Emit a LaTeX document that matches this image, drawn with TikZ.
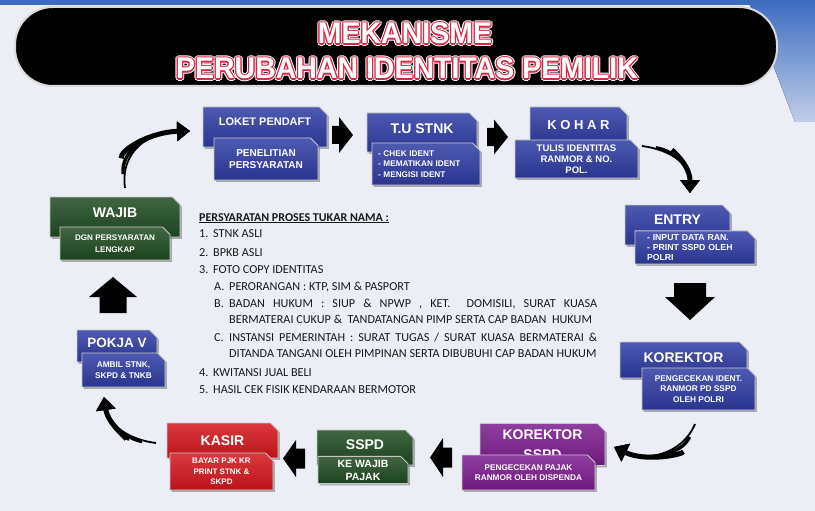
\documentclass[tikz,border=0pt]{standalone}
\usepackage{fontspec}
\setmainfont{Liberation Sans}
\newfontfamily\calibri{Carlito}
\usepackage{graphicx}
\usetikzlibrary{shapes.misc,shadows,calc,arrows.meta,positioning}

\definecolor{latar}{HTML}{ECEEF6}
\definecolor{biru}{HTML}{2F3CA3}
\definecolor{hijau}{HTML}{1F4B22}
\definecolor{merah}{HTML}{D4161C}
\definecolor{ungu}{HTML}{7B1D8E}
\definecolor{merahjudul}{HTML}{D42A45}
\definecolor{birutepi}{HTML}{3C6CC0}

\tikzset{
  kotak/.style={chamfered rectangle, chamfered rectangle corners=north east,
    chamfered rectangle xsep=4pt, top color=#1!85!white, bottom color=#1!88!black,
    draw=white!78!black, line width=.9pt,
    drop shadow={shadow xshift=1.8pt, shadow yshift=-1.8pt, fill=black!60, opacity=.5},
    text=white, align=center, inner sep=0pt},
  kepala/.style={kotak=#1, font=\bfseries\fontsize{14}{17}\selectfont},
  isi/.style={kotak=#1, font=\bfseries\fontsize{8.3}{10.5}\selectfont},
  judulteks/.style={anchor=base, inner sep=0pt, font=\bfseries\fontsize{30}{32}\selectfont},
  daftar/.style={anchor=base west, inner sep=0pt, text=black!90,
    font=\calibri\fontsize{12.2}{14}\selectfont},
  lengkung/.style={line width=1.8pt, -{Triangle[length=13pt,width=19pt]},
    postaction={draw, line width=3.4pt, shorten <=14pt},
    postaction={draw, line width=5pt, shorten <=30pt}}
}

\begin{document}
\begin{tikzpicture}[x=1pt,y=-1pt]

\newcommand\teksgaris[3]{%
  \foreach \s in {0,45,...,315}
    \node[judulteks, text=white] (#1-w\s) at ($(#2)+(\s:2.4pt)$) {\scalebox{0.95}[1]{#3}};
  \foreach \s in {0,45,...,315}
    \node[judulteks, text=merahjudul] (#1-r\s) at ($(#2)+(\s:1.3pt)$) {\scalebox{0.95}[1]{#3}};
  \node[judulteks, text=white] (#1) at (#2) {\scalebox{0.95}[1]{#3}};
}

\newcommand\blokpanah[8]{%
  \fill[black, shift={(#2,#3)}, rotate=#4] ({-#5/2},{-#8/2}) -- ({#5/2-#6},{-#8/2})
    -- ({#5/2-#6},{-#7/2}) -- ({#5/2},0) -- ({#5/2-#6},{#7/2})
    -- ({#5/2-#6},{#8/2}) -- ({-#5/2},{#8/2}) -- cycle;
  \coordinate (#1) at (#2,#3);
}

\useasboundingbox (0,0) rectangle (815,511);
\fill[latar] (0,0) rectangle (815,511);
\fill[birutepi] (0,0) rectangle (815,5);
\fill[top color=birutepi, bottom color=birutepi!25!latar] (748,0) -- (815,0) -- (815,122) -- (795,122) -- cycle;

% judul
\node[draw=white!85!black, line width=2pt, fill=black, rounded corners=38pt,
  minimum width=762pt, minimum height=79pt] (bar) at (396,46.5) {};
\teksgaris{judul1}{405,44}{MEKANISME}
\teksgaris{judul2}{407,79}{PERUBAHAN IDENTITAS PEMILIK}

% baris atas
\node[kepala=biru, minimum width=124pt, minimum height=40pt, text depth=10pt,
  font=\bfseries\fontsize{11}{13}\selectfont] (loket) at (265,127) {LOKET PENDAFT};
\node[isi=biru, minimum width=104pt, minimum height=42pt,
  font=\bfseries\fontsize{10}{12}\selectfont] (loket-isi) at (266,159) {PENELITIAN\\PERSYARATAN};

\node[kepala=biru, minimum width=110pt, minimum height=39pt, text depth=7pt] (tu) at (422,132.5) {T.U STNK};
\node[isi=biru, minimum width=108pt, minimum height=42pt, text width=96pt, align=left,
  font=\bfseries\fontsize{8.2}{10.5}\selectfont] (tu-isi) at (426,164) {- CHEK IDENT\\- MEMATIKAN IDENT\\- MENGISI IDENT};

\node[kepala=biru, minimum width=97pt, minimum height=38pt, text depth=3pt,
  font=\bfseries\fontsize{13}{15}\selectfont] (kohar) at (578.5,126) {K O H A R};
\node[isi=biru, minimum width=123pt, minimum height=38pt,
  font=\bfseries\fontsize{9.5}{11}\selectfont] (kohar-isi) at (576.5,159) {TULIS IDENTITAS\\RANMOR \& NO.\\POL.};

% sisi kanan
\node[kepala=biru, minimum width=105pt, minimum height=40pt, text depth=10pt] (entry) at (677.5,225) {ENTRY};
\node[isi=biru, minimum width=120pt, minimum height=31pt, text width=96pt, align=left,
  font=\bfseries\fontsize{8.7}{10}\selectfont] (entry-isi) at (695,247.5) {- INPUT DATA RAN.\\- PRINT SSPD OLEH\\POLRI};

\node[kepala=biru, minimum width=127pt, minimum height=36pt, text depth=4pt] (korektor) at (683.5,360) {KOREKTOR};
\node[isi=biru, minimum width=113pt, minimum height=42pt] (korektor-isi) at (698.5,389) {PENGECEKAN IDENT.\\RANMOR PD SSPD\\OLEH POLRI};

% baris bawah
\node[kepala=ungu, minimum width=125pt, minimum height=42pt,
  font=\bfseries\fontsize{14}{20}\selectfont] (korsspd) at (542.5,444.5) {KOREKTOR\\SSPD};
\node[isi=ungu, minimum width=133pt, minimum height=35pt,
  font=\bfseries\fontsize{8.25}{10}\selectfont] (korsspd-isi) at (528.5,472.5) {PENGECEKAN PAJAK\\RANMOR OLEH DISPENDA};

\node[kepala=hijau, minimum width=96pt, minimum height=35pt, text depth=5pt] (sspd) at (365,447.5) {SSPD};
\node[isi=hijau, minimum width=90pt, minimum height=26pt,
  font=\bfseries\fontsize{10.5}{13}\selectfont] (sspd-isi) at (363,470) {KE WAJIB\\PAJAK};

\node[kepala=merah, minimum width=111pt, minimum height=35pt] (kasir) at (222.5,440.5) {KASIR};
\node[isi=merah, minimum width=103pt, minimum height=37pt,
  font=\bfseries\fontsize{8}{10.5}\selectfont] (kasir-isi) at (221.5,471.5) {BAYAR PJK KR\\PRINT STNK \&\\SKPD};

% sisi kiri
\node[kepala=biru, minimum width=80pt, minimum height=32pt, text depth=6pt,
  font=\bfseries\fontsize{13.5}{15}\selectfont] (pokja) at (117,346) {POKJA V};
\node[isi=biru, minimum width=83pt, minimum height=34pt] (pokja-isi) at (123.5,370) {AMBIL STNK,\\SKPD \& TNKB};

\node[kepala=hijau, minimum width=130pt, minimum height=40pt, text depth=8pt] (wajib) at (115,217) {WAJIB};
\node[isi=hijau, minimum width=110pt, minimum height=33pt,
  font=\bfseries\fontsize{8.1}{12}\selectfont] (wajib-isi) at (115,243.5) {DGN PERSYARATAN\\LENGKAP};

% panah blok
\blokpanah{p1}{342.5}{135}{0}{21}{14}{36}{18}
\blokpanah{p2}{497.5}{137}{0}{21}{14}{35}{18}
\blokpanah{p3}{690}{301.5}{-90}{37}{23}{50}{32}
\blokpanah{p4}{441}{457.5}{180}{22}{13}{39}{20}
\blokpanah{p5}{294}{458.5}{180}{22}{13}{37}{20}
\blokpanah{p6}{113}{295}{90}{36}{20}{48}{27}

% panah lengkung
\coordinate (k1a) at (125,188);
\coordinate (k1b) at (190,131);
\coordinate (k2a) at (642,146);
\coordinate (k2b) at (690,193);
\coordinate (k3a) at (695,424);
\coordinate (k3b) at (614,447);
\coordinate (k4a) at (156,443);
\coordinate (k4b) at (104,397);
\draw[lengkung] (k1a) .. controls (120,150) and (150,132) .. (k1b);
\draw[lengkung] (k2a) .. controls (672,150) and (690,165) .. (k2b);
\draw[lengkung] (k3a) .. controls (682,455) and (645,462) .. (k3b);
\draw[lengkung] (k4a) .. controls (130,440) and (108,425) .. (k4b);

% persyaratan
\node[daftar, font=\calibri\bfseries\fontsize{12}{14}\selectfont] (syarat) at (199,221) {\underline{PERSYARATAN PROSES TUKAR NAMA :}};
\node[daftar] (s1) at (199,237) {\makebox[14pt][l]{1.}STNK ASLI};
\node[daftar] (s2) at (199,256) {\makebox[14pt][l]{2.}BPKB ASLI};
\node[daftar] (s3) at (199,273) {\makebox[14pt][l]{3.}FOTO COPY IDENTITAS};
\node[daftar] (s3a) at (214,290) {\makebox[15pt][l]{A.}PERORANGAN : KTP, SIM \& PASPORT};
\node[daftar] (s3b) at (214,307) {\makebox[15pt][l]{B.}\makebox[368pt][s]{BADAN HUKUM : SIUP \& NPWP , KET. \ DOMISILI, SURAT KUASA}};
\node[daftar] (s3b2) at (229,323) {BERMATERAI CUKUP \& \ TANDATANGAN PIMP SERTA CAP BADAN \ HUKUM};
\node[daftar] (s3c) at (214,341) {\makebox[15pt][l]{C.}\makebox[368pt][s]{INSTANSI PEMERINTAH : SURAT TUGAS / SURAT KUASA BERMATERAI \&}};
\node[daftar] (s3c2) at (229,357) {DITANDA TANGANI OLEH PIMPINAN SERTA DIBUBUHI CAP BADAN HUKUM};
\node[daftar] (s4) at (199,376) {\makebox[14pt][l]{4.}KWITANSI JUAL BELI};
\node[daftar] (s5) at (199,393) {\makebox[14pt][l]{5.}HASIL CEK FISIK KENDARAAN BERMOTOR};

\end{tikzpicture}
\end{document}
